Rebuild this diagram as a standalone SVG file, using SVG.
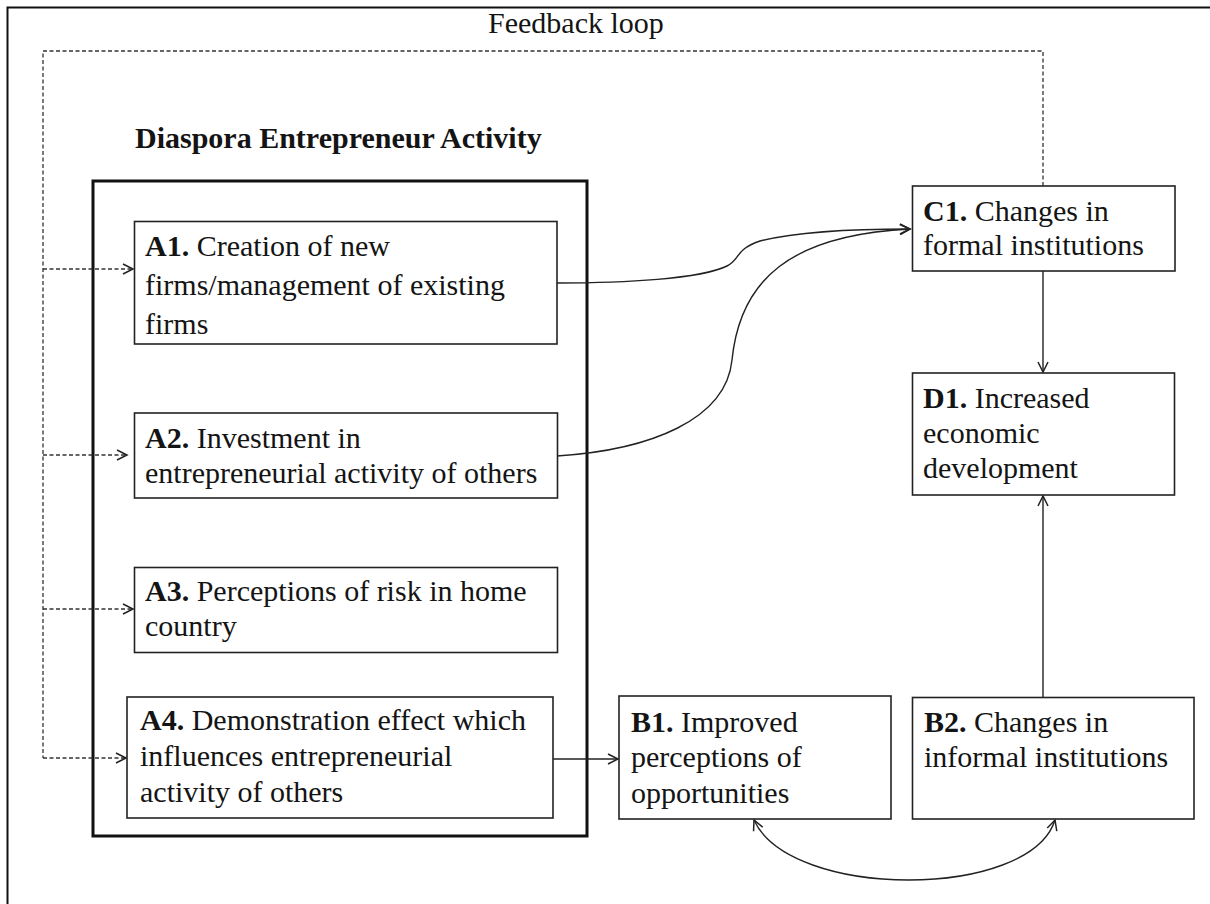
<svg xmlns="http://www.w3.org/2000/svg" width="1210" height="904" viewBox="0 0 1210 904">
<style>
text{font-family:"Liberation Serif","Times New Roman",serif;font-size:30px;fill:#141414}
.b{font-weight:bold}
.box{fill:#fff;stroke:#222;stroke-width:1.6}
.grp{fill:none;stroke:#111;stroke-width:3}
.ln{fill:none;stroke:#222;stroke-width:1.4}
.dash{fill:none;stroke:#333;stroke-width:1.3;stroke-dasharray:4 2.5}
</style>
<defs>
<marker id="ah" markerUnits="userSpaceOnUse" markerWidth="14" markerHeight="14" viewBox="-12 -7 14 14" refX="0" refY="0" orient="auto-start-reverse">
<path d="M-10,-5 L0,0 L-10,5" fill="none" stroke="#222" stroke-width="1.5"/>
</marker>
</defs>
<rect width="1210" height="904" fill="#fff"/>
<rect x="7.5" y="7.5" width="1215" height="910" fill="none" stroke="#111" stroke-width="2"/>
<text x="488" y="33">Feedback loop</text>
<text class="b" x="135" y="148">Diaspora Entrepreneur Activity</text>
<rect id="group-A" class="grp" x="93" y="181" width="494" height="655"/>

<g id="connectors">
<path class="dash" d="M1043,186 V51 H43 V758"/>
<path class="dash" d="M43,269 H133" marker-end="url(#ah)"/>
<path class="dash" d="M43,455 H127" marker-end="url(#ah)"/>
<path class="dash" d="M43,609 H133" marker-end="url(#ah)"/>
<path class="dash" d="M43,758 H126" marker-end="url(#ah)"/>
<path class="ln" d="M557,283 C625,283 700,279 727,266 C741,259 734,250 760,241 C800,231 860,229 910,229" marker-end="url(#ah)"/>
<path class="ln" d="M557,456 C650,450 726,420 732,360 C740,280 790,235 910,229" marker-end="url(#ah)"/>
<path class="ln" d="M1043,271 V372" marker-end="url(#ah)"/>
<path class="ln" d="M1043,697 V496" marker-end="url(#ah)"/>
<path class="ln" d="M553,759 H618" marker-end="url(#ah)"/>
<path class="ln" d="M754,820 C790,900 1030,900 1055,820" marker-start="url(#ah)" marker-end="url(#ah)"/>
</g>

<g id="A1">
<rect class="box" x="134.5" y="221.5" width="422.5" height="122.5"/>
<text x="145" y="256"><tspan class="b">A1.</tspan> Creation of new</text>
<text x="145" y="295">firms/management of existing</text>
<text x="145" y="334">firms</text>
</g>
<g id="A2">
<rect class="box" x="134.5" y="413" width="423" height="85"/>
<text x="145" y="448"><tspan class="b">A2.</tspan> Investment in</text>
<text x="145" y="483">entrepreneurial activity of others</text>
</g>
<g id="A3">
<rect class="box" x="134.5" y="567.5" width="423" height="85"/>
<text x="145" y="601"><tspan class="b">A3.</tspan> Perceptions of risk in home</text>
<text x="145" y="636">country</text>
</g>
<g id="A4">
<rect class="box" x="127" y="697" width="426" height="121"/>
<text x="140" y="730"><tspan class="b">A4.</tspan> Demonstration effect which</text>
<text x="140" y="766">influences entrepreneurial</text>
<text x="140" y="802">activity of others</text>
</g>
<g id="B1">
<rect class="box" x="619" y="696" width="272" height="123"/>
<text x="631" y="732"><tspan class="b">B1.</tspan> Improved</text>
<text x="631" y="767">perceptions of</text>
<text x="631" y="803">opportunities</text>
</g>
<g id="B2">
<rect class="box" x="912.5" y="697.5" width="281.5" height="121.5"/>
<text x="924" y="732"><tspan class="b">B2.</tspan> Changes in</text>
<text x="924" y="767">informal institutions</text>
</g>
<g id="C1">
<rect class="box" x="912.5" y="186" width="262.5" height="85"/>
<text x="923" y="221"><tspan class="b">C1.</tspan> Changes in</text>
<text x="923" y="255">formal institutions</text>
</g>
<g id="D1">
<rect class="box" x="912.5" y="373" width="262" height="122"/>
<text x="923" y="408"><tspan class="b">D1.</tspan> Increased</text>
<text x="923" y="443">economic</text>
<text x="923" y="478">development</text>
</g>
</svg>
